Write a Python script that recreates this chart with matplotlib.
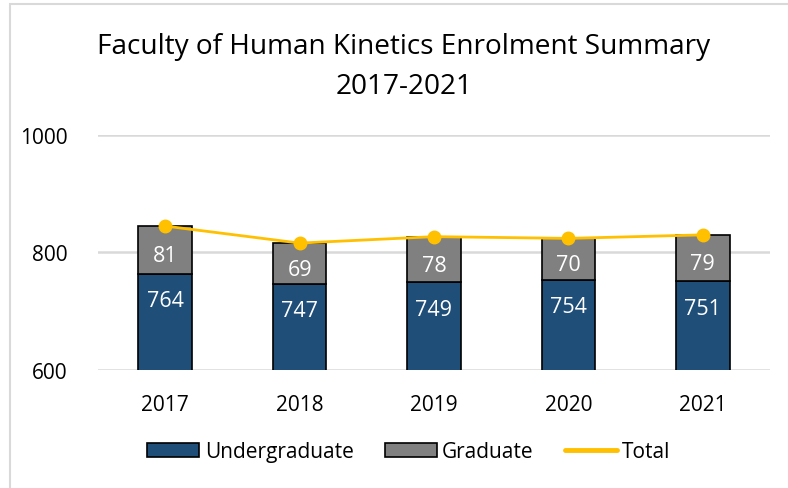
import matplotlib
matplotlib.use("Agg")
import matplotlib.pyplot as plt
from matplotlib.patches import Rectangle, Patch
from matplotlib.lines import Line2D
import numpy as np

years = ["2017", "2018", "2019", "2020", "2021"]
undergrad = [764, 747, 749, 754, 751]
graduate = [81, 69, 78, 70, 79]
total = [u + g for u, g in zip(undergrad, graduate)]

plt.rcParams['font.family'] = ['Open Sans', 'DejaVu Sans']

W, H = 788, 489
fig = plt.figure(figsize=(W / 100, H / 100), dpi=100)
ax = fig.add_axes([98 / W, 1 - 371 / H, (770 - 98) / W, (371 - 136) / H])

# outer border
fig.patches.append(Rectangle((9.5 / W, -0.1), 1.2, 1 - 4.5 / H + 0.1, transform=fig.transFigure,
                             fill=False, edgecolor='#d9d9d9', linewidth=1.5, clip_on=False))

x = np.arange(len(years))
bw = 0.4
ax.bar(x, undergrad, bw, color='#1f4e79', edgecolor='black', linewidth=1.2, zorder=3)
ax.bar(x, graduate, bw, bottom=undergrad, color='#808080', edgecolor='black', linewidth=1.2, zorder=3)
ax.plot(x, total, color='#ffc000', linewidth=2, marker='o', markersize=9, zorder=4)

for i in range(len(x)):
    ax.text(x[i], undergrad[i] - 46, str(undergrad[i]), ha='center', va='center',
            color='white', fontsize=15.5, zorder=5)
    gy = undergrad[i] + graduate[i] / 2 - 10
    ax.text(x[i], gy, str(graduate[i]), ha='center', va='center', color='white',
            fontsize=15.5, zorder=5)

ax.set_xlim(-0.5, len(years) - 0.5)
ax.set_ylim(600, 1000)
ax.set_yticks([600, 800, 1000])
ax.set_xticks(x)
ax.set_xticklabels(years)
ax.tick_params(axis='both', length=0, labelsize=15, colors='black')
ax.tick_params(axis='y', pad=22)
ax.tick_params(axis='x', pad=17)
for s in ax.spines.values():
    s.set_visible(False)
ax.yaxis.grid(True, color='#d9d9d9', linewidth=1.8, zorder=0)
ax.set_axisbelow(True)

cx = 404 / W
fig.text(cx, 1 - 47 / H, "Faculty of Human Kinetics Enrolment Summary",
         ha='center', va='center', fontsize=20.2)
fig.text(cx, 1 - 87 / H, "2017-2021", ha='center', va='center', fontsize=20.2)

handles = [Patch(facecolor='#1f4e79', edgecolor='black', linewidth=1.2),
           Patch(facecolor='#808080', edgecolor='black', linewidth=1.2),
           Line2D([0], [0], color='#ffc000', linewidth=3.5, solid_capstyle='round')]
fig.legend(handles, ["Undergraduate", "Graduate", "Total"], loc='center',
           bbox_to_anchor=(409 / W, 1 - 453 / H), ncol=3, frameon=False, fontsize=15,
           handlelength=2.5, handleheight=0.67, handletextpad=0.25, columnspacing=1.5)

fig.savefig("out.png", dpi=100)
